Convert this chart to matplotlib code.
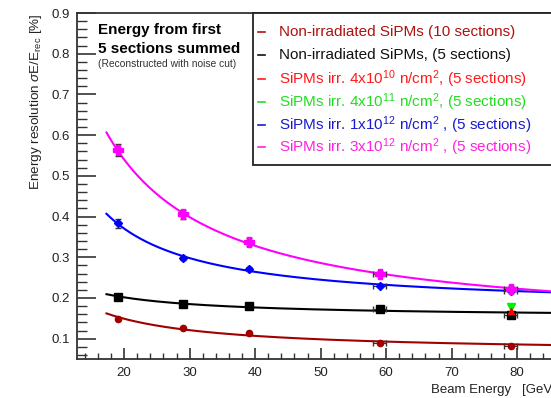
import matplotlib
matplotlib.use("Agg")
import matplotlib.pyplot as plt
from matplotlib.patches import Rectangle
from matplotlib.ticker import MultipleLocator
import numpy as np

plt.rcParams.update({
    "font.family": ["Liberation Sans", "DejaVu Sans"],
    "mathtext.fontset": "custom",
    "mathtext.rm": "Liberation Sans",
    "mathtext.it": "Liberation Sans:italic",
})

# beam energies (GeV)
energy = [19, 29, 39, 59, 79]

# resolution per configuration
res_nonirr_10 = [0.149, 0.127, 0.115, 0.090, 0.082]
res_nonirr_5 = [0.203, 0.186, 0.179, 0.173, 0.159]
res_1e12 = [0.383, 0.299, 0.272, 0.230, 0.218]
res_3e12 = [0.563, 0.405, 0.337, 0.260, 0.223]
err_3e12 = [0.015, 0.012, 0.010, 0.006, 0.006]
err_1e12 = [0.010, 0.005, 0.005, 0.004, 0.004]

# single-energy points
energy_single = [79]
res_4e10 = [0.167]
res_4e11 = [0.177]

DARKRED = "#a00000"
RED = "#ff0000"
GREEN = "#00ee00"
BLUE = "#0000ff"
MAGENTA = "#ff00ff"

legend_rows = [
    ("Non-irradiated SiPMs (10 sections)", "#b01010"),
    ("Non-irradiated SiPMs, (5 sections)", "#111111"),
    ("SiPMs irr. 4x10$^{10}$ n/cm$^{2}$, (5 sections)", "#ff1a1a"),
    ("SiPMs irr. 4x10$^{11}$ n/cm$^{2}$, (5 sections)", "#22dd22"),
    ("SiPMs irr. 1x10$^{12}$ n/cm$^{2}$ , (5 sections)", "#1a1acc"),
    ("SiPMs irr. 3x10$^{12}$ n/cm$^{2}$ , (5 sections)", "#ff22dd"),
]

W, H = 551, 398
fig = plt.figure(figsize=(W / 100, H / 100), dpi=100)

XMIN, XMAX = 12.8, 90.0
px_per_unit = 6.55
ax_left = 77 / W
ax_bottom = (H - 359) / H
ax_height = (359 - 13) / H
ax_width = (XMAX - XMIN) * px_per_unit / W
ax = fig.add_axes([ax_left, ax_bottom, ax_width, ax_height])
ax.set_xlim(XMIN, XMAX)
ax.set_ylim(0.05, 0.9)

for s in ax.spines.values():
    s.set_color("#333333")
    s.set_linewidth(1.3)

ax.xaxis.set_major_locator(MultipleLocator(10))
ax.xaxis.set_minor_locator(MultipleLocator(2))
ax.yaxis.set_major_locator(MultipleLocator(0.1))
ax.yaxis.set_minor_locator(MultipleLocator(0.02))
ax.tick_params(which="both", direction="in", colors="#333333", labelcolor="#222222",
               labelsize=9.5, top=False, right=False)
ax.tick_params(axis="y", which="major", length=14, width=1.2, pad=5)
ax.tick_params(axis="y", which="minor", length=7, width=1.0)
ax.tick_params(axis="x", which="major", length=8, width=1.2, pad=6)
ax.tick_params(axis="x", which="minor", length=4.5, width=1.0)
ax.set_yticks([0.1, 0.2, 0.3, 0.4, 0.5, 0.6, 0.7, 0.8, 0.9])
ax.set_yticklabels(["0.1", "0.2", "0.3", "0.4", "0.5", "0.6", "0.7", "0.8", "0.9"])


def fit_curve(x, y, order):
    x = np.asarray(x, float)
    basis = np.column_stack([x ** -k for k in range(order + 1)])
    coef, *_ = np.linalg.lstsq(basis, np.asarray(y, float), rcond=None)
    xs = np.linspace(17.3, XMAX, 300)
    ys = np.column_stack([xs ** -k for k in range(order + 1)]) @ coef
    return xs, ys


for yv, col, order in [(res_nonirr_10, DARKRED, 1), (res_nonirr_5, "black", 1),
                       (res_1e12, BLUE, 2), (res_3e12, MAGENTA, 2)]:
    xs, ys = fit_curve(energy, yv, order)
    ax.plot(xs, ys, color=col, lw=1.5, zorder=2)

xerr = [0, 0, 0, 1.0, 1.0]
ax.errorbar(energy, res_nonirr_10, xerr=xerr, fmt="o", ms=4.5, color=DARKRED,
            ecolor="#333333", elinewidth=0.8, capsize=2, zorder=4)
ax.errorbar(energy, res_nonirr_5, xerr=xerr, fmt="s", ms=6, color="black",
            ecolor="#333333", elinewidth=0.8, capsize=2, zorder=4)
ax.errorbar(energy_single, res_4e11, fmt="v", ms=6, color=GREEN, zorder=5)
ax.errorbar(energy_single, res_4e10, fmt="^", ms=5, color=RED, zorder=5)
ax.errorbar(energy, res_1e12, yerr=err_1e12, xerr=xerr, fmt="D", ms=4, color=BLUE,
            ecolor="#333333", elinewidth=0.8, capsize=2, zorder=4)
ax.errorbar(energy, res_3e12, yerr=err_3e12, xerr=xerr, fmt="P", ms=6.5, color=MAGENTA,
            mec=MAGENTA, ecolor="#333333", elinewidth=0.8, capsize=2, zorder=4)

# legend box
fig.add_artist(Rectangle((253 / W, 1 - 165 / H), 310 / W, 152 / H,
                         transform=fig.transFigure, facecolor="white",
                         edgecolor="#222222", lw=1.3, zorder=6))
row_y = [32, 55, 79, 102, 125, 147]
for (label, col), yy in zip(legend_rows, row_y):
    fy = 1 - yy / H
    fig.add_artist(plt.Line2D([258 / W, 265 / W], [fy, fy], color=col, lw=1.2,
                              transform=fig.transFigure, zorder=7))
    fig.text(279 / W, fy, label, color=col, fontsize=11, va="center", ha="left",
             zorder=7)

fig.text(98 / W, 1 - 30 / H, "Energy from first", fontsize=11, fontweight="bold",
         va="center", ha="left")
fig.text(98 / W, 1 - 49 / H, "5 sections summed", fontsize=11, fontweight="bold",
         va="center", ha="left")
fig.text(98 / W, 1 - 64 / H, "(Reconstructed with noise cut)", fontsize=7.4,
         color="#333333", va="center", ha="left")

fig.text(36 / W, 1 - 13 / H, r"Energy resolution $\sigma$E/E$_{\mathrm{rec}}$ [%]",
         rotation=90, fontsize=9.7, va="top", ha="center", color="#222222")
fig.text(431 / W, 1 - 390 / H, "Beam Energy   [GeV]", fontsize=9.5, va="center",
         ha="left", color="#222222")

fig.savefig("out.png", dpi=100)
